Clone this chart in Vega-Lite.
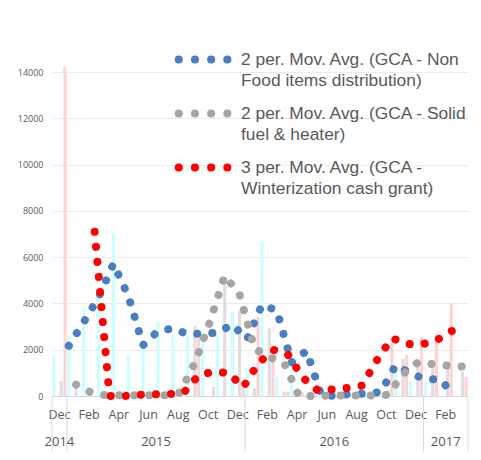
{
  "$schema": "https://vega.github.io/schema/vega-lite/v6.json",
  "width": 416,
  "height": 347,
  "autosize": "none",
  "padding": {"left": 52, "top": 49, "right": 13, "bottom": 64},
  "background": "white",
  "config": {"view": {"stroke": null}, "font": "Open Sans"},
  "datasets": {
    "bars": [
      {"m": "2014-12", "s": "NFI", "v": 1750}, {"m": "2014-12", "s": "Fuel", "v": 650}, {"m": "2014-12", "s": "Cash", "v": 14250},
      {"m": "2015-01", "s": "NFI", "v": 2580}, {"m": "2015-01", "s": "Fuel", "v": 300}, {"m": "2015-01", "s": "Cash", "v": 0},
      {"m": "2015-02", "s": "NFI", "v": 3800}, {"m": "2015-02", "s": "Fuel", "v": 0}, {"m": "2015-02", "s": "Cash", "v": 0},
      {"m": "2015-03", "s": "NFI", "v": 4500}, {"m": "2015-03", "s": "Fuel", "v": 0}, {"m": "2015-03", "s": "Cash", "v": 0},
      {"m": "2015-04", "s": "NFI", "v": 7050}, {"m": "2015-04", "s": "Fuel", "v": 0}, {"m": "2015-04", "s": "Cash", "v": 0},
      {"m": "2015-05", "s": "NFI", "v": 1750}, {"m": "2015-05", "s": "Fuel", "v": 0}, {"m": "2015-05", "s": "Cash", "v": 0},
      {"m": "2015-06", "s": "NFI", "v": 2400}, {"m": "2015-06", "s": "Fuel", "v": 0}, {"m": "2015-06", "s": "Cash", "v": 0},
      {"m": "2015-07", "s": "NFI", "v": 3230}, {"m": "2015-07", "s": "Fuel", "v": 0}, {"m": "2015-07", "s": "Cash", "v": 0},
      {"m": "2015-08", "s": "NFI", "v": 2580}, {"m": "2015-08", "s": "Fuel", "v": 0}, {"m": "2015-08", "s": "Cash", "v": 0},
      {"m": "2015-09", "s": "NFI", "v": 2630}, {"m": "2015-09", "s": "Fuel", "v": 3020}, {"m": "2015-09", "s": "Cash", "v": 2710},
      {"m": "2015-10", "s": "NFI", "v": 2630}, {"m": "2015-10", "s": "Fuel", "v": 0}, {"m": "2015-10", "s": "Cash", "v": 390},
      {"m": "2015-11", "s": "NFI", "v": 2630}, {"m": "2015-11", "s": "Fuel", "v": 5150}, {"m": "2015-11", "s": "Cash", "v": 0},
      {"m": "2015-12", "s": "NFI", "v": 3640}, {"m": "2015-12", "s": "Fuel", "v": 3710}, {"m": "2015-12", "s": "Cash", "v": 460},
      {"m": "2016-01", "s": "NFI", "v": 1190}, {"m": "2016-01", "s": "Fuel", "v": 330}, {"m": "2016-01", "s": "Cash", "v": 3420},
      {"m": "2016-02", "s": "NFI", "v": 6700}, {"m": "2016-02", "s": "Fuel", "v": 2920}, {"m": "2016-02", "s": "Cash", "v": 1720},
      {"m": "2016-03", "s": "NFI", "v": 820}, {"m": "2016-03", "s": "Fuel", "v": 190}, {"m": "2016-03", "s": "Cash", "v": 180},
      {"m": "2016-04", "s": "NFI", "v": 2050}, {"m": "2016-04", "s": "Fuel", "v": 200}, {"m": "2016-04", "s": "Cash", "v": 150},
      {"m": "2016-05", "s": "NFI", "v": 0}, {"m": "2016-05", "s": "Fuel", "v": 0}, {"m": "2016-05", "s": "Cash", "v": 0},
      {"m": "2016-06", "s": "NFI", "v": 0}, {"m": "2016-06", "s": "Fuel", "v": 0}, {"m": "2016-06", "s": "Cash", "v": 0},
      {"m": "2016-07", "s": "NFI", "v": 0}, {"m": "2016-07", "s": "Fuel", "v": 0}, {"m": "2016-07", "s": "Cash", "v": 0},
      {"m": "2016-08", "s": "NFI", "v": 0}, {"m": "2016-08", "s": "Fuel", "v": 0}, {"m": "2016-08", "s": "Cash", "v": 0},
      {"m": "2016-09", "s": "NFI", "v": 0}, {"m": "2016-09", "s": "Fuel", "v": 0}, {"m": "2016-09", "s": "Cash", "v": 0},
      {"m": "2016-10", "s": "NFI", "v": 0}, {"m": "2016-10", "s": "Fuel", "v": 250}, {"m": "2016-10", "s": "Cash", "v": 2280},
      {"m": "2016-11", "s": "NFI", "v": 1270}, {"m": "2016-11", "s": "Fuel", "v": 1600}, {"m": "2016-11", "s": "Cash", "v": 1770},
      {"m": "2016-12", "s": "NFI", "v": 620}, {"m": "2016-12", "s": "Fuel", "v": 1410}, {"m": "2016-12", "s": "Cash", "v": 2560},
      {"m": "2017-01", "s": "NFI", "v": 620}, {"m": "2017-01", "s": "Fuel", "v": 1240}, {"m": "2017-01", "s": "Cash", "v": 2700},
      {"m": "2017-02", "s": "NFI", "v": 0}, {"m": "2017-02", "s": "Fuel", "v": 1340}, {"m": "2017-02", "s": "Cash", "v": 4000},
      {"m": "2017-03", "s": "NFI", "v": 0}, {"m": "2017-03", "s": "Fuel", "v": 1050}, {"m": "2017-03", "s": "Cash", "v": 820}
    ],
    "ma": [
      {"m": "2015-01", "s": "NFI", "v": 2165}, {"m": "2015-02", "s": "NFI", "v": 3190}, {"m": "2015-03", "s": "NFI", "v": 4250},
      {"m": "2015-04", "s": "NFI", "v": 5720}, {"m": "2015-05", "s": "NFI", "v": 4330}, {"m": "2015-06", "s": "NFI", "v": 2200},
      {"m": "2015-07", "s": "NFI", "v": 2800}, {"m": "2015-08", "s": "NFI", "v": 2920}, {"m": "2015-09", "s": "NFI", "v": 2670},
      {"m": "2015-10", "s": "NFI", "v": 2700}, {"m": "2015-11", "s": "NFI", "v": 2730}, {"m": "2015-12", "s": "NFI", "v": 3090},
      {"m": "2016-01", "s": "NFI", "v": 2450}, {"m": "2016-02", "s": "NFI", "v": 3940}, {"m": "2016-03", "s": "NFI", "v": 3700},
      {"m": "2016-04", "s": "NFI", "v": 1450}, {"m": "2016-05", "s": "NFI", "v": 1950}, {"m": "2016-06", "s": "NFI", "v": 30},
      {"m": "2016-07", "s": "NFI", "v": 0}, {"m": "2016-08", "s": "NFI", "v": 100}, {"m": "2016-09", "s": "NFI", "v": 100},
      {"m": "2016-10", "s": "NFI", "v": 170}, {"m": "2016-11", "s": "NFI", "v": 1330}, {"m": "2016-12", "s": "NFI", "v": 980},
      {"m": "2017-01", "s": "NFI", "v": 720}, {"m": "2017-02", "s": "NFI", "v": 720}, {"m": "2017-03", "s": "NFI", "v": 0},
      {"m": "2015-01", "s": "Fuel", "v": 490}, {"m": "2015-02", "s": "Fuel", "v": 150}, {"m": "2015-03", "s": "Fuel", "v": 30},
      {"m": "2015-04", "s": "Fuel", "v": 30}, {"m": "2015-05", "s": "Fuel", "v": 30}, {"m": "2015-06", "s": "Fuel", "v": 30},
      {"m": "2015-07", "s": "Fuel", "v": 30}, {"m": "2015-08", "s": "Fuel", "v": 150}, {"m": "2015-09", "s": "Fuel", "v": 1450},
      {"m": "2015-10", "s": "Fuel", "v": 3200}, {"m": "2015-11", "s": "Fuel", "v": 5200}, {"m": "2015-12", "s": "Fuel", "v": 4400},
      {"m": "2016-01", "s": "Fuel", "v": 2050}, {"m": "2016-02", "s": "Fuel", "v": 1680}, {"m": "2016-03", "s": "Fuel", "v": 1430},
      {"m": "2016-04", "s": "Fuel", "v": 0}, {"m": "2016-05", "s": "Fuel", "v": 0}, {"m": "2016-06", "s": "Fuel", "v": 20},
      {"m": "2016-07", "s": "Fuel", "v": 20}, {"m": "2016-08", "s": "Fuel", "v": 20}, {"m": "2016-09", "s": "Fuel", "v": 20},
      {"m": "2016-10", "s": "Fuel", "v": 50}, {"m": "2016-11", "s": "Fuel", "v": 950}, {"m": "2016-12", "s": "Fuel", "v": 1450},
      {"m": "2017-01", "s": "Fuel", "v": 1380}, {"m": "2017-02", "s": "Fuel", "v": 1310}, {"m": "2017-03", "s": "Fuel", "v": 1270},
      {"m": "2015-02", "s": "Cash", "v": 7100}, {"m": "2015-03", "s": "Cash", "v": 0}, {"m": "2015-04", "s": "Cash", "v": 0},
      {"m": "2015-05", "s": "Cash", "v": 50}, {"m": "2015-06", "s": "Cash", "v": 80}, {"m": "2015-07", "s": "Cash", "v": 80},
      {"m": "2015-08", "s": "Cash", "v": 150}, {"m": "2015-09", "s": "Cash", "v": 900}, {"m": "2015-10", "s": "Cash", "v": 1050},
      {"m": "2015-11", "s": "Cash", "v": 1000}, {"m": "2015-12", "s": "Cash", "v": 380}, {"m": "2016-01", "s": "Cash", "v": 1400},
      {"m": "2016-02", "s": "Cash", "v": 2000}, {"m": "2016-03", "s": "Cash", "v": 1800}, {"m": "2016-04", "s": "Cash", "v": 800},
      {"m": "2016-05", "s": "Cash", "v": 250}, {"m": "2016-06", "s": "Cash", "v": 280}, {"m": "2016-07", "s": "Cash", "v": 350},
      {"m": "2016-08", "s": "Cash", "v": 450}, {"m": "2016-09", "s": "Cash", "v": 1550}, {"m": "2016-10", "s": "Cash", "v": 2500},
      {"m": "2016-11", "s": "Cash", "v": 2250}, {"m": "2016-12", "s": "Cash", "v": 2230}, {"m": "2017-01", "s": "Cash", "v": 2400},
      {"m": "2017-02", "s": "Cash", "v": 2800}, {"m": "2017-03", "s": "Cash", "v": 3000}
    ],
    "yearStarts": [{"m": "2014-12"}, {"m": "2015-01"}, {"m": "2016-01"}, {"m": "2017-01"}],
    "yearEnd": [{"m": "2017-03"}],
    "yearMid": [{"m": "2015-07", "year": "2015"}, {"m": "2016-07", "year": "2016"}],
    "yearCentre": [{"m": "2014-12", "year": "2014"}, {"m": "2017-02", "year": "2017"}]
  },
  "layer": [
    {
      "data": {"name": "bars"},
      "mark": {"type": "bar"},
      "encoding": {
        "x": {
          "field": "m", "type": "ordinal", "title": null,
          "scale": {"paddingInner": 0, "paddingOuter": 0},
          "axis": {
            "title": null, "ticks": false, "grid": false, "labelAngle": 0,
            "domainColor": "#d9d9d9", "labelColor": "#595959", "labelFontSize": 12.5,
            "labelPadding": 12, "labelOverlap": false,
            "labelExpr": "(substring(datum.value,5,7) == '12') ? 'Dec' : (substring(datum.value,5,7) == '02') ? 'Feb' : (substring(datum.value,5,7) == '04') ? 'Apr' : (substring(datum.value,5,7) == '06') ? 'Jun' : (substring(datum.value,5,7) == '08') ? 'Aug' : (substring(datum.value,5,7) == '10') ? 'Oct' : ''"
          }
        },
        "xOffset": {"field": "s", "scale": {"domain": ["NFI", "X", "Fuel", "Cash"], "paddingInner": 0.15, "paddingOuter": 0.1}},
        "y": {
          "field": "v", "type": "quantitative", "stack": null, "title": null,
          "scale": {"domain": [0, 15000], "nice": false},
          "axis": {
            "title": null, "values": [0, 2000, 4000, 6000, 8000, 10000, 12000, 14000],
            "domain": false, "ticks": false, "labelFontSize": 9, "labelColor": "#595959",
            "labelPadding": 9, "gridColor": "#ebebeb", "format": "d"
          }
        },
        "color": {"field": "s", "scale": {"domain": ["NFI", "Fuel", "Cash"], "range": ["#ccffff", "#dedede", "#ffd3d3"]}, "legend": null}
      }
    },
    {
      "data": {"name": "ma"},
      "mark": {"type": "line", "strokeWidth": 8, "strokeDash": [0.1, 15], "strokeCap": "round"},
      "encoding": {
        "x": {"field": "m", "type": "ordinal", "title": null},
        "xOffset": {"field": "s"},
        "y": {"field": "v", "type": "quantitative", "title": null},
        "color": {
          "field": "s",
          "scale": {"domain": ["NFI", "Fuel", "Cash"], "range": ["#4a7ebf", "#a5a5a5", "#ff0000"]},
          "legend": {
            "orient": "top-right", "offset": 0, "padding": 0, "title": null,
            "labelFont": "Liberation Sans", "labelFontSize": 17.4, "labelColor": "#595959", "labelLimit": 400, "labelOffset": 14,
            "symbolType": "M-3.43,-0.35L1.45,-0.35", "symbolSize": 400, "symbolStrokeWidth": 8,
            "symbolDash": [0.1, 16.1], "rowPadding": 8,
            "labelExpr": "datum.value == 'NFI' ? ['2 per. Mov. Avg. (GCA - Non', 'Food items distribution)'] : datum.value == 'Fuel' ? ['2 per. Mov. Avg. (GCA - Solid', 'fuel & heater)'] : ['3 per. Mov. Avg. (GCA -', 'Winterization cash grant)']",
            "encode": {
              "symbols": {"update": {"strokeCap": {"value": "round"}}},
              "labels": {"update": {"lineHeight": {"value": 21}, "dy": {"value": -3.5}}}
            }
          }
        }
      }
    },
    {
      "data": {"name": "yearStarts"},
      "mark": {"type": "rule", "color": "#d9d9d9", "clip": false},
      "encoding": {
        "x": {"field": "m", "type": "ordinal", "bandPosition": 0, "title": null},
        "y": {"datum": 0, "type": "quantitative"},
        "y2": {"datum": -2400}
      }
    },
    {
      "data": {"name": "yearEnd"},
      "mark": {"type": "rule", "color": "#d9d9d9", "clip": false},
      "encoding": {
        "x": {"field": "m", "type": "ordinal", "bandPosition": 1, "title": null},
        "y": {"datum": 0, "type": "quantitative"},
        "y2": {"datum": -2400}
      }
    },
    {
      "data": {"name": "yearMid"},
      "mark": {"type": "text", "color": "#595959", "fontSize": 13, "baseline": "middle", "clip": false},
      "encoding": {
        "x": {"field": "m", "type": "ordinal", "bandPosition": 0, "title": null},
        "y": {"datum": -2000, "type": "quantitative"},
        "text": {"field": "year"}
      }
    },
    {
      "data": {"name": "yearCentre"},
      "mark": {"type": "text", "color": "#595959", "fontSize": 13, "baseline": "middle", "clip": false},
      "encoding": {
        "x": {"field": "m", "type": "ordinal", "bandPosition": 0.5, "title": null},
        "y": {"datum": -2000, "type": "quantitative"},
        "text": {"field": "year"}
      }
    }
  ],
  "resolve": {"scale": {"color": "independent"}}
}
